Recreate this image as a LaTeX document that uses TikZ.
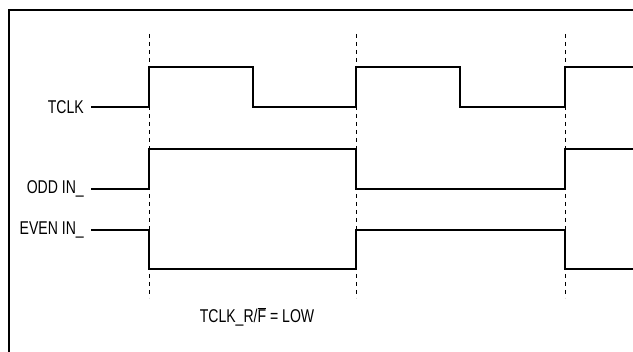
\documentclass[tikz,border=0pt]{standalone}
\usepackage{fontspec}
\setmainfont{Liberation Sans}[FakeStretch=0.76]
\usetikzlibrary{positioning}

\begin{document}
\begin{tikzpicture}[x=1pt,y=-1pt,
          lab/.style={anchor=mid east,inner sep=0pt,font=\fontsize{18.5}{18.5}\selectfont},
          note/.style={inner sep=0pt,font=\fontsize{18.5}{18.5}\selectfont},
          wave/.style={draw,line width=1.6pt},
          edge/.style={draw,line width=0.8pt,dash pattern=on 4pt off 4pt}
        ]
        \useasboundingbox (0,0) rectangle (633,352);
        %frame
        \draw[line width=2.6pt] (9,352) -- (9,10) -- (633,10);

        %clock edges
        \foreach \x in {149,356,565}
          \draw[edge] (\x,34) -- (\x,298);

        %labels
        \coordinate (t0) at (91,107);
        \coordinate (o0) at (91,189);
        \coordinate (e0) at (91,230);
        \node[lab,left=7pt of t0] (tclk) {TCLK};
        \node[lab,left=7pt of o0] (odd) {ODD IN\_};
        \node[lab,left=7pt of e0] (even) {EVEN IN\_};

        %waveforms
        \draw[wave] (t0) -- (149,107) -- (149,67) -- (253,67) -- (253,107)
          -- (356,107) -- (356,67) -- (460,67) -- (460,107)
          -- (565,107) -- (565,67) -- (633,67);
        \draw[wave] (o0) -- (149,189) -- (149,149) -- (356,149) -- (356,189)
          -- (565,189) -- (565,149) -- (633,149);
        \draw[wave] (e0) -- (149,230) -- (149,269) -- (356,269) -- (356,230)
          -- (565,230) -- (565,269) -- (633,269);

        \node[note] (mode) at (257,317) {TCLK\_R/$\overline{\mbox{F}}$ = LOW};
\end{tikzpicture}
\end{document}
